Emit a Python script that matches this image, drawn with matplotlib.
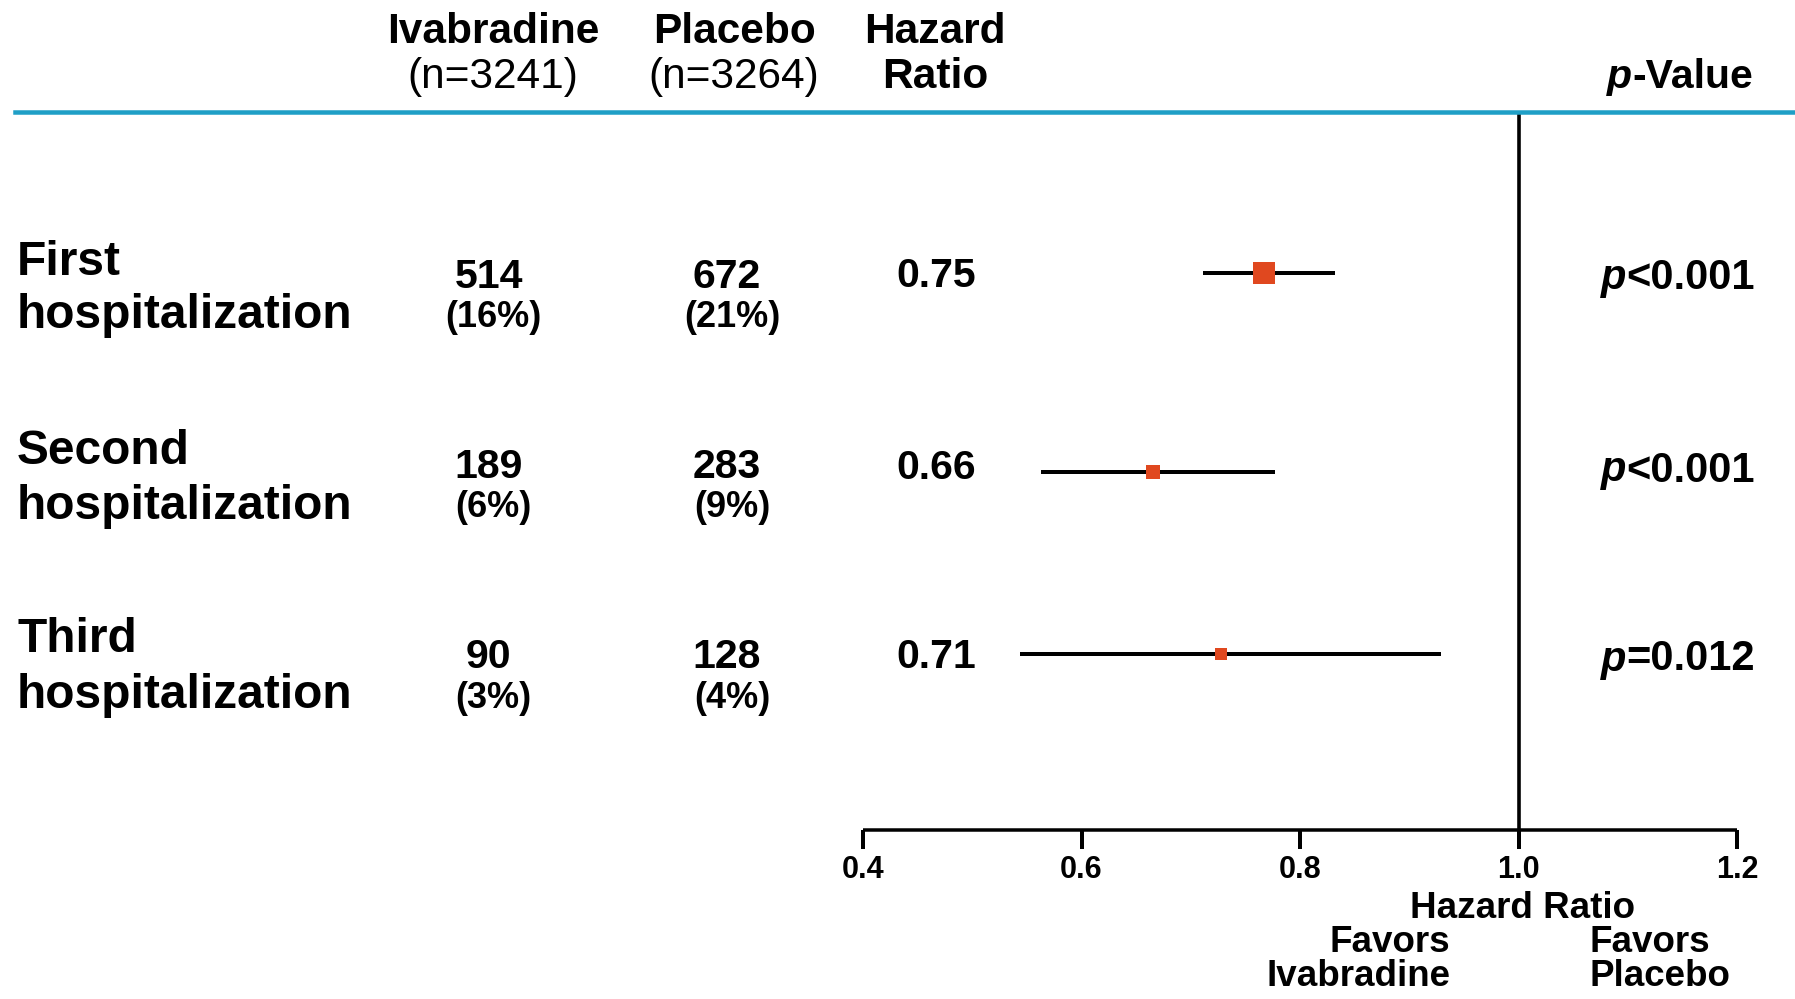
import matplotlib
matplotlib.use("Agg")
import matplotlib.pyplot as plt

# ---------------- data ----------------
row_labels = ["First\nhospitalization", "Second\nhospitalization", "Third\nhospitalization"]
ivab_n = ["514", "189", "90"]
ivab_pct = ["(16%)", "(6%)", "(3%)"]
plac_n = ["672", "283", "128"]
plac_pct = ["(21%)", "(9%)", "(4%)"]
hr_text = ["0.75", "0.66", "0.71"]
hr_point = [0.767, 0.665, 0.728]
ci_low = [0.711, 0.563, 0.544]
ci_high = [0.832, 0.777, 0.929]
marker_px = [22, 14.5, 11.5]
p_ops = ["<0.001", "<0.001", "=0.012"]
xticks = [0.4, 0.6, 0.8, 1.0, 1.2]
xtick_labels = ["0.4", "0.6", "0.8", "1.0", "1.2"]
ref_line = 1.0

# ---------------- layout ----------------
W, H = 1795, 999
DPI = 100
PX = 72.0 / DPI  # points per pixel
FONT = ["Liberation Sans", "DejaVu Sans"]
BLUE = "#1f9fc6"
RED = "#e0481f"
DY = 3.5  # text vertical nudge (pixels)

fig = plt.figure(figsize=(W / DPI, H / DPI), dpi=DPI)
fig.patch.set_facecolor("white")


def fx(x):
    return x / W


def fy(y):
    return 1 - y / H


def ftext(x, y, s, size, weight="bold", ha="center", va="center", style="normal",
          dy=DY, **kw):
    return fig.text(fx(x), fy(y + dy), s, fontsize=size, fontweight=weight, ha=ha, va=va,
                    fontstyle=style, family=FONT, color="black", **kw)


# forest axes: x in hazard-ratio units, y in pixel rows (top = 0)
ax_left, ax_right = 863, 1737
ax = fig.add_axes([fx(ax_left), 0, (ax_right - ax_left) / W, 1])
ax.set_xlim(0.4, 1.2)
ax.set_ylim(H, 0)
ax.patch.set_alpha(0)
for s in ["top", "left", "right"]:
    ax.spines[s].set_visible(False)
ax.spines["bottom"].set_position(("data", 830))
ax.spines["bottom"].set_linewidth(3.5 * PX)
ax.spines["bottom"].set_capstyle("butt")
ax.set_yticks([])
ax.set_xticks(xticks)
ax.set_xticklabels(xtick_labels)
ax.tick_params(axis="x", direction="out", length=19 * PX, width=4 * PX, pad=4,
               labelsize=22)
for lab in ax.get_xticklabels():
    lab.set_fontweight("bold")
    lab.set_family(FONT)

# header
ftext(493, 28.6, "Ivabradine", 30.5)
ftext(493, 73.3, "(n=3241)", 30.5, weight="normal")
ftext(734, 28.6, "Placebo", 30.5)
ftext(734, 73.3, "(n=3264)", 30.5, weight="normal")
ftext(935, 28.6, "Hazard", 30.5)
ftext(935, 73.3, "Ratio", 30.5)
t_val = ftext(1753, 73.3, "-Value", 29.5, ha="right")
ax.annotate("p", xy=(0, 0), xycoords=t_val, ha="right", va="bottom", fontsize=29.5,
            fontweight="bold", fontstyle="italic", family=FONT)

# blue rule
fig.add_artist(plt.Line2D([fx(15), fx(W)], [fy(112.2), fy(112.2)], color=BLUE,
                          linewidth=4.5 * PX, transform=fig.transFigure))

# rows
label_y = [(258.7, 312.5), (447.6, 502.6), (636.5, 691.5)]
num_y = [(273.6, 313.7), (463.6, 503.7), (653.7, 695.0)]
hr_y = [272.5, 464.8, 653.7]
mk_y = [272.5, 471.7, 653.7]
p_y = [274.8, 467.0, 656.0]

for i in range(3):
    first, second = row_labels[i].split("\n")
    ftext(17, label_y[i][0], first, 34.5, ha="left")
    ftext(17, label_y[i][1], second, 34.5, ha="left")
    ftext(488.8, num_y[i][0], ivab_n[i], 29.5)
    ftext(493.4, num_y[i][1], ivab_pct[i], 26)
    ftext(727.0, num_y[i][0], plac_n[i], 29.5)
    ftext(732.7, num_y[i][1], plac_pct[i], 26)
    ftext(896.4, hr_y[i], hr_text[i], 29.5, ha="left")
    t_p = ftext(1755, p_y[i], p_ops[i], 30, ha="right")
    ax.annotate("p", xy=(0, 0), xycoords=t_p, ha="right", va="bottom", fontsize=30,
                fontweight="bold", fontstyle="italic", family=FONT)
    # CI line and point
    ax.plot([ci_low[i], ci_high[i]], [mk_y[i], mk_y[i]], color="black",
            linewidth=4 * PX, solid_capstyle="butt", zorder=2)
    ax.plot([hr_point[i]], [mk_y[i]], marker="s", markersize=marker_px[i] * PX,
            color=RED, markeredgewidth=0, zorder=3)

# reference line
ax.plot([ref_line, ref_line], [112.2, 830], color="black", linewidth=3.6 * PX,
        solid_capstyle="butt", zorder=1, clip_on=False)

# bottom labels (kept inside the canvas)
ftext(1522.6, 905.0, "Hazard Ratio", 26.5)
ftext(1450.5, 942.0, "Favors", 26.5, ha="right", dy=0)
ftext(1450.5, 977.0, "Ivabradine", 26.5, ha="right", dy=0)
ftext(1589, 942.0, "Favors", 26.5, ha="left", dy=0)
ftext(1589, 977.0, "Placebo", 26.5, ha="left", dy=0)

fig.savefig("out.png", dpi=DPI, facecolor="white")
